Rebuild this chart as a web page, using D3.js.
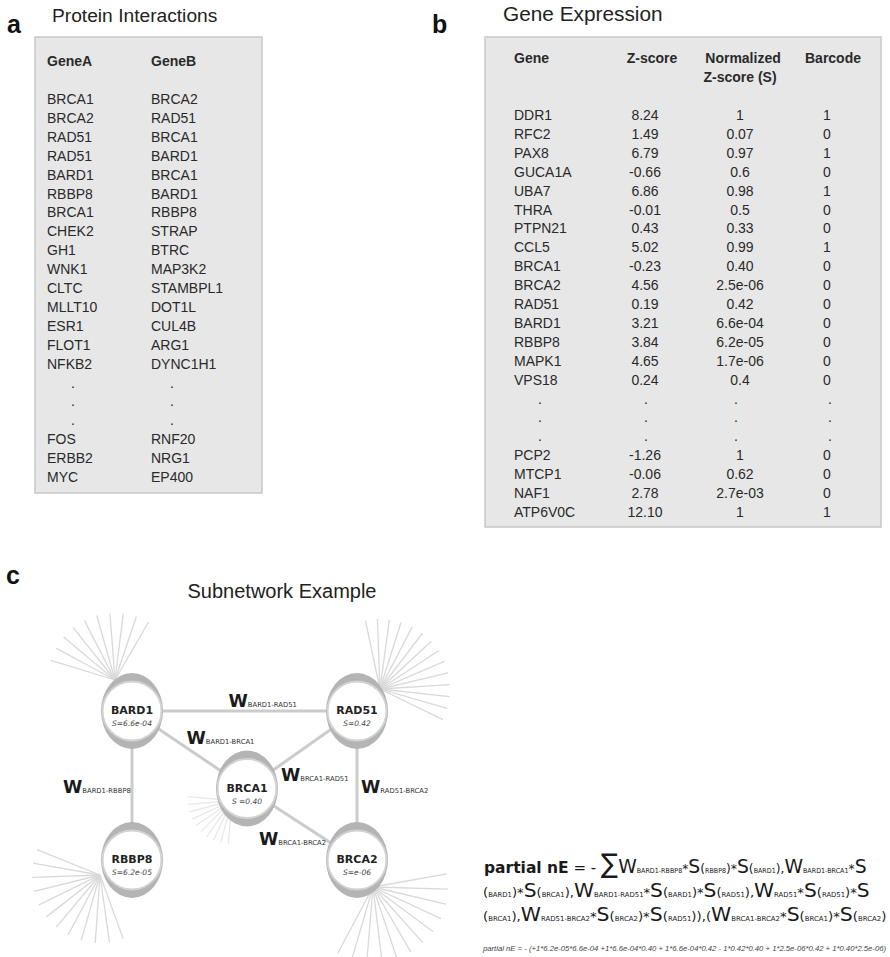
<!DOCTYPE html>
<html>
<head>
<meta charset="utf-8">
<script src="https://cdn.jsdelivr.net/npm/d3@7"></script>
<style>
  body { margin: 0; background: #fff; }
  svg { display: block; }
  text { white-space: pre; }
</style>
</head>
<body>
<script>
// ---- Panel a: protein interaction pairs ----
const geneA = ["BRCA1","BRCA2","RAD51","RAD51","BARD1","RBBP8","BRCA1","CHEK2","GH1","WNK1","CLTC","MLLT10","ESR1","FLOT1","NFKB2",".",".",".","FOS","ERBB2","MYC"];
const geneB = ["BRCA2","RAD51","BRCA1","BARD1","BRCA1","BARD1","RBBP8","STRAP","BTRC","MAP3K2","STAMBPL1","DOT1L","CUL4B","ARG1","DYNC1H1",".",".",".","RNF20","NRG1","EP400"];

// ---- Panel b: expression table ----
const expGenes = ["DDR1","RFC2","PAX8","GUCA1A","UBA7","THRA","PTPN21","CCL5","BRCA1","BRCA2","RAD51","BARD1","RBBP8","MAPK1","VPS18",".",".",".","PCP2","MTCP1","NAF1","ATP6V0C"];
const zScores = ["8.24","1.49","6.79","-0.66","6.86","-0.01","0.43","5.02","-0.23","4.56","0.19","3.21","3.84","4.65","0.24",".",".",".","-1.26","-0.06","2.78","12.10"];
const normZ = ["1","0.07","0.97","0.6","0.98","0.5","0.33","0.99","0.40","2.5e-06","0.42","6.6e-04","6.2e-05","1.7e-06","0.4",".",".",".","1","0.62","2.7e-03","1"];
const barcodes = ["1","0","1","0","1","0","0","1","0","0","0","0","0","0","0",".",".",".","0","0","0","1"];

// ---- Panel c: subnetwork ----
const netNodes = ["BARD1","RAD51","BRCA1","RBBP8","BRCA2"];
const netScores = ["S=6.6e-04","S=0.42","S =0.40","S=6.2e-05","S=e-06"];
const netEdges = [["BARD1","RAD51"],["BARD1","BRCA1"],["BARD1","RBBP8"],["BRCA1","RAD51"],["RAD51","BRCA2"],["BRCA1","BRCA2"]];
const edgeWeights = ["BARD1-RAD51","BARD1-BRCA1","BARD1-RBBP8","BRCA1-RAD51","RAD51-BRCA2","BRCA1-BRCA2"];

const formulaLines = [
  [["b","partial nE"],["n"," = - "],["g","\u2211"],["W","W"],["s","BARD1-RBBP8"],["p","*"],["W","S"],["p","("],["s","RBBP8"],["p",")*"],["W","S"],["p","("],["s","BARD1"],["p","),"],["W","W"],["s","BARD1-BRCA1"],["p","*"],["W","S"]],
  [["p","("],["s","BARD1"],["p",")*"],["W","S"],["p","("],["s","BRCA1"],["p","),"],["W","W"],["s","BARD1-RAD51"],["p","*"],["W","S"],["p","("],["s","BARD1"],["p",")*"],["W","S"],["p","("],["s","RAD51"],["p","),"],["W","W"],["s","RAD51"],["p","*"],["W","S"],["p","("],["s","RAD51"],["p",")*"],["W","S"]],
  [["p","("],["s","BRCA1"],["p","),"],["W","W"],["s","RAD51-BRCA2"],["p","*"],["W","S"],["p","("],["s","BRCA2"],["p",")*"],["W","S"],["p","("],["s","RAD51"],["p",")),("],["W","W"],["s","BRCA1-BRCA2"],["p","*"],["W","S"],["p","("],["s","BRCA1"],["p",")*"],["W","S"],["p","("],["s","BRCA2"],["p",")"]]
];
const numericLine = "partial nE = - (+1*6.2e-05*6.6e-04 +1*6.6e-04*0.40 + 1*6.6e-04*0.42 - 1*0.42*0.40 + 1*2.5e-06*0.42 + 1*0.40*2.5e-06)";

// ------------------------------------------------------------------
const W = 890, H = 957;
const ARIAL = "'Liberation Sans', Arial, sans-serif";
const DEJAVU = "'DejaVu Sans', Verdana, sans-serif";
const svg = d3.select("body").append("svg").attr("width", W).attr("height", H)
  .style("font-family", ARIAL);

function panelLetter(letter, x, y) {
  svg.append("text").attr("x", x).attr("y", y).text(letter)
    .attr("font-size", 25).attr("font-weight", "bold").attr("fill", "#111");
}
function panelTitle(t, x, y, size, anchor) {
  svg.append("text").attr("x", x).attr("y", y).text(t)
    .attr("text-anchor", anchor || "start")
    .attr("font-size", size).attr("fill", "#222");
}
function box(x, y, w, h) {
  svg.append("rect").attr("x", x).attr("y", y).attr("width", w).attr("height", h)
    .attr("fill", "#e7e7e7").attr("stroke", "#c8c8c8").attr("stroke-width", 1.5);
}

// ---------------- Panel a ----------------
panelLetter("a", 7, 33);
panelTitle("Protein Interactions", 52, 22, 19.2);
box(35, 37, 227, 456);
const gA = svg.append("g").attr("font-size", 14).attr("fill", "#2a2a2a");
gA.append("text").attr("x", 47).attr("y", 66).attr("font-weight", "bold").text("GeneA");
gA.append("text").attr("x", 151).attr("y", 66).attr("font-weight", "bold").text("GeneB");
const yA = d3.scaleLinear().domain([0, geneA.length - 1]).range([104, 482]);
const colsA = [{vals: geneA, x: 47, dotX: 73}, {vals: geneB, x: 151, dotX: 172}];
colsA.forEach(c => {
  gA.append("g").selectAll("text").data(c.vals).join("text")
    .attr("x", d => d === "." ? c.dotX : c.x)
    .attr("text-anchor", d => d === "." ? "middle" : "start")
    .attr("y", (d, i) => yA(i))
    .text(d => d);
});

// ---------------- Panel b ----------------
panelLetter("b", 432, 33);
panelTitle("Gene Expression", 503, 21, 20.8);
box(485, 37, 396, 490);
const gB = svg.append("g").attr("font-size", 14).attr("fill", "#2a2a2a");
const hdr = gB.append("g").attr("font-weight", "bold");
hdr.append("text").attr("x", 514).attr("y", 63).text("Gene");
hdr.append("text").attr("x", 652).attr("y", 63).attr("text-anchor", "middle").text("Z-score");
hdr.append("text").attr("x", 743).attr("y", 63).attr("text-anchor", "middle").text("Normalized");
hdr.append("text").attr("x", 740).attr("y", 82).attr("text-anchor", "middle").text("Z-score (S)");
hdr.append("text").attr("x", 833).attr("y", 63).attr("text-anchor", "middle").text("Barcode");
const yB = d3.scaleLinear().domain([0, expGenes.length - 1]).range([120, 517]);
const colsB = [
  {vals: expGenes, x: 514, anchor: "start", dotX: 540},
  {vals: zScores, x: 645, anchor: "middle", dotX: 646},
  {vals: normZ, x: 740, anchor: "middle", dotX: 736},
  {vals: barcodes, x: 827, anchor: "middle", dotX: 830}
];
colsB.forEach(c => {
  gB.append("g").selectAll("text").data(c.vals).join("text")
    .attr("x", d => d === "." ? c.dotX : c.x)
    .attr("text-anchor", d => d === "." ? "middle" : c.anchor)
    .attr("y", (d, i) => yB(i))
    .text(d => d);
});

// ---------------- Panel c ----------------
panelLetter("c", 6, 584);
panelTitle("Subnetwork Example", 282, 598, 20, "middle");

// node layout on a 3-column / 3-row grid
const colX = d3.scalePoint().domain(["L", "M", "R"]).range([132, 357]);
const rowY = d3.scalePoint().domain(["T", "M", "B"]).range([711, 860]);
const place = {
  BARD1: ["L", "T"], RAD51: ["R", "T"], BRCA1: ["M", "M"], RBBP8: ["L", "B"], BRCA2: ["R", "B"]
};
const pos = {};
netNodes.forEach(n => {
  const [cx, ry] = place[n];
  pos[n] = {x: colX(cx) + (n === "BRCA1" ? 2.5 : 0), y: rowY(ry) + (n === "BRCA1" ? 3 : 0)};
});

// neighbour fans: origin offset from node centre, angle range (deg), spoke count, length
const fans = {
  BARD1: {dx: -17, dy: -31, a0: -163, a1: -60, n: 10, len: 67, op: 1},
  RAD51: {dx: 23, dy: -22, a0: -102, a1: 26, n: 14, len: 70, op: 1},
  BRCA1: {dx: -15, dy: 12, a0: 95, a1: 185, n: 10, len: 44, op: 0.6},
  RBBP8: {dx: -32, dy: 15, a0: 70, a1: 202, n: 12, len: 68, op: 1},
  BRCA2: {dx: 16, dy: 27, a0: -10, a1: 118, n: 12, len: 75, op: 1}
};
const fanG = svg.append("g").attr("stroke", "#d9d9d9").attr("stroke-width", 1.3);
Object.entries(fans).forEach(([node, f]) => {
  const ox = pos[node].x + f.dx, oy = pos[node].y + f.dy;
  const angles = d3.range(f.n).map(i => f.a0 + (f.a1 - f.a0) * i / (f.n - 1));
  fanG.append("g").selectAll("line").data(angles).join("line")
    .attr("x1", ox).attr("y1", oy)
    .attr("x2", a => ox + f.len * Math.cos(a * Math.PI / 180))
    .attr("y2", a => oy + f.len * Math.sin(a * Math.PI / 180))
    .attr("stroke-opacity", f.op);
});

// edges
svg.append("g").selectAll("line").data(netEdges).join("line")
  .attr("x1", d => pos[d[0]].x).attr("y1", d => pos[d[0]].y)
  .attr("x2", d => pos[d[1]].x).attr("y2", d => pos[d[1]].y)
  .attr("stroke", "#cbcbcb").attr("stroke-width", 3);

// edge weight labels, offset from the edge midpoint
const labelOffset = {
  "BARD1-RAD51": [-16, -4], "BARD1-BRCA1": [-3, -6], "BARD1-RBBP8": [-69, 7],
  "BRCA1-RAD51": [-21, 31], "RAD51-BRCA2": [4, 7], "BRCA1-BRCA2": [-43, 21]
};
const wl = svg.append("g").attr("font-family", DEJAVU).attr("fill", "#1a1a1a");
netEdges.forEach((e, i) => {
  const key = edgeWeights[i];
  const mx = (pos[e[0]].x + pos[e[1]].x) / 2, my = (pos[e[0]].y + pos[e[1]].y) / 2;
  const t = wl.append("text").attr("x", mx + labelOffset[key][0]).attr("y", my + labelOffset[key][1]);
  t.append("tspan").attr("font-size", 17.5).attr("font-weight", "bold").text("W");
  t.append("tspan").attr("font-size", 6.8).attr("fill", "#333").text(key);
});

// nodes
const ng = svg.append("g").selectAll("g").data(netNodes).join("g")
  .attr("transform", d => `translate(${pos[d].x},${pos[d].y})`);
ng.append("ellipse").attr("rx", 31).attr("ry", 38).attr("fill", "#b4b4b4");
ng.append("circle").attr("r", 29.5).attr("fill", "#fff").attr("stroke", "#d2d2d2").attr("stroke-width", 2);
ng.append("text").attr("text-anchor", "middle").attr("y", 3)
  .attr("font-family", DEJAVU).attr("font-weight", "bold").attr("font-size", 11).attr("fill", "#222")
  .text(d => d);
ng.append("text").attr("text-anchor", "middle").attr("y", 15)
  .attr("font-family", DEJAVU).attr("font-style", "italic").attr("font-size", 7.5).attr("fill", "#444")
  .text((d, i) => netScores[i]);

// ---------------- formula ----------------
const tokStyle = {
  b: {size: 16.5, weight: "bold"}, n: {size: 16, weight: "normal"}, g: {size: 27, weight: "normal"},
  W: {size: 20, weight: "normal"}, s: {size: 6.8, weight: "normal"}, p: {size: 13, weight: "normal"}
};
const lineY = [873, 897, 921];
const lineSpan = [[484, 867], [483, 870], [483, 887]];
formulaLines.forEach((toks, li) => {
  const g = svg.append("g");
  const t = g.append("text").attr("x", 0).attr("y", 0)
    .attr("font-family", DEJAVU).attr("fill", "#1a1a1a");
  toks.forEach(([k, s]) => {
    t.append("tspan").attr("font-size", tokStyle[k].size).attr("font-weight", tokStyle[k].weight).text(s);
  });
  const natural = t.node().getComputedTextLength();
  const target = lineSpan[li][1] - lineSpan[li][0];
  const k = natural > 0 ? target / natural : 1;
  g.attr("transform", `translate(${lineSpan[li][0]},${lineY[li]}) scale(${k},1)`);
});

// evaluated expression, fitted to the space right of the formula's left edge
const numText = svg.append("text").attr("x", 483).attr("y", 951)
  .attr("font-size", 7.9).attr("font-style", "italic").attr("fill", "#444")
  .text(numericLine);
const numW = numText.node().getComputedTextLength();
if (numW > 403) numText.attr("font-size", 7.9 * 403 / numW);
</script>
</body>
</html>
